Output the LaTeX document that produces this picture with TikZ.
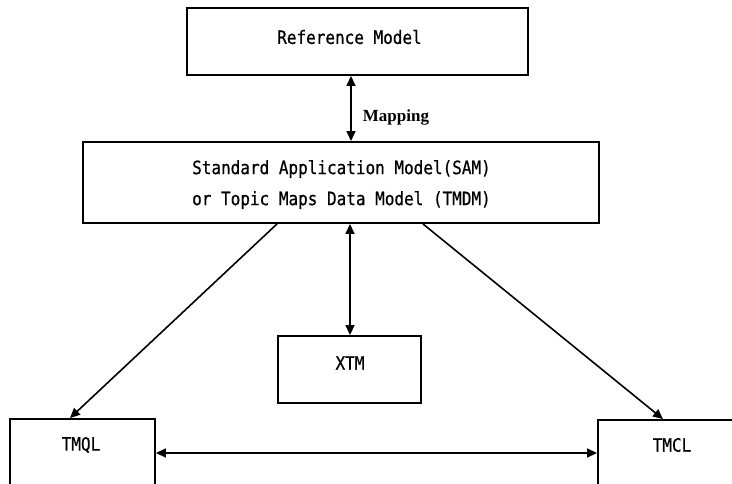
\documentclass[tikz,border=0pt]{standalone}
\usepackage{fontspec}
\setmonofont{DejaVu Sans Mono}[FakeBold=0.6]
\newfontfamily\lblfont{Liberation Serif}
\usetikzlibrary{arrows.meta}
\newcommand{\tallmono}[1]{\scalebox{1}[1.15]{#1}}
\tikzset{
  box/.style={draw, line width=1.9pt, inner sep=0pt, fill=white},
  txt/.style={font=\ttfamily\fontsize{16}{31}\selectfont, inner sep=0pt, align=center},
  link/.style={line width=1.6pt, -{Triangle[length=10pt,width=9pt]}},
  both/.style={line width=1.6pt, {Triangle[length=10pt,width=9pt]}-{Triangle[length=10pt,width=9pt]}}
}
\begin{document}
\begin{tikzpicture}[x=1pt, y=-1pt]
  \useasboundingbox (0,0) rectangle (732,483);
  \clip (0,0) rectangle (732,483);
  \fill[white] (0,0) rectangle (732,483);

  % boxes
  \node[box, minimum width=341pt, minimum height=67pt] (ref) at (357.5,41.5) {};
  \node[box, minimum width=516pt, minimum height=81pt] (sam) at (341,182.5) {};
  \node[box, minimum width=143pt, minimum height=67pt] (xtm) at (349.5,369.5) {};
  \node[box, minimum width=145pt, minimum height=90pt] (tmql) at (82.5,464) {};
  \node[box, minimum width=160pt, minimum height=90pt] (tmcl) at (678,465) {};

  % labels
  \node[txt] (reftxt) at (349.5,37) {\tallmono{Reference Model}};
  \node[txt] (samtxt1) at (341.5,169) {\tallmono{Standard Application Model(SAM)}};
  \node[txt] (samtxt2) at (341.5,200) {\tallmono{or Topic Maps Data Model (TMDM)}};
  \node[txt] (xtmtxt) at (350,363) {\tallmono{XTM}};
  \node[txt] (tmqltxt) at (81,445) {\tallmono{TMQL}};
  \node[txt] (tmcltxt) at (672,445) {\tallmono{TMCL}};

  % connectors
  \draw[both] (ref.south -| 351,0) -- (sam.north -| 351,0);
  \node[font=\lblfont\bfseries\fontsize{17}{19}\selectfont, inner sep=0pt] (maplbl) at (396,117) {Mapping};
  \draw[both] (sam.south -| 350,0) -- (xtm.north -| 350,0);
  \draw[link] (sam.south -| 277,0) -- (tmql.north -| 70,0);
  \draw[link] (sam.south -| 423,0) -- (tmcl.north -| 663,0);
  \draw[both] (tmql.east |- 0,453) -- (tmcl.west |- 0,453);
\end{tikzpicture}
\end{document}
